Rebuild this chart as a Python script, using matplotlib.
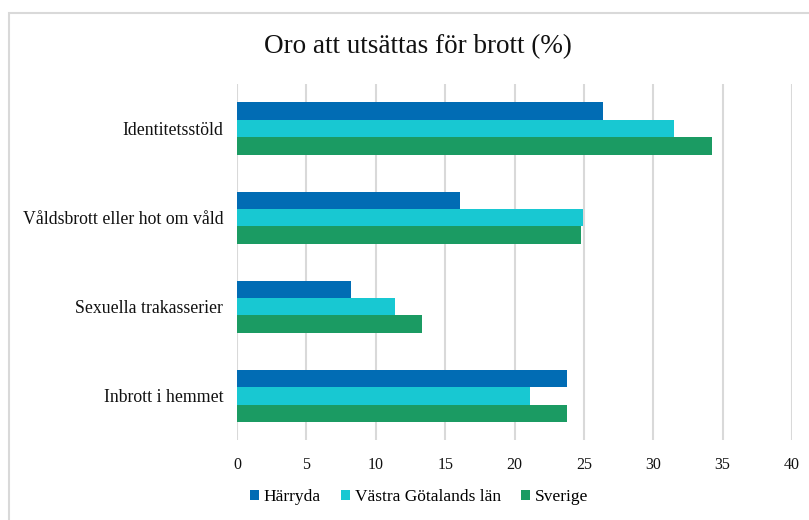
import matplotlib.pyplot as plt
import matplotlib.patches as mpatches
import numpy as np

plt.rcParams['font.family'] = ['Liberation Serif', 'DejaVu Serif']

categories = ['Identitetsstöld', 'Våldsbrott eller hot om våld',
              'Sexuella trakasserier', 'Inbrott i hemmet']
series = ['Härryda', 'Västra Götalands län', 'Sverige']
harryda = [26.4, 16.1, 8.2, 23.8]
vastra = [31.5, 24.9, 11.4, 21.1]
sverige = [34.2, 24.8, 13.35, 23.8]
colors = ['#016CB4', '#18C8D2', '#1B9B63']

fig = plt.figure(figsize=(8.09, 5.20), dpi=100)
ax = fig.add_axes([0.293, 0.153, 0.686, 0.6855])

# chart frame (light grey border, runs off the right/bottom)
frame = mpatches.Rectangle((9 / 809, -0.1), 1.2, 1 - 13 / 520 + 0.1,
                           transform=fig.transFigure, fill=False,
                           edgecolor='#d9d9d9', linewidth=1.5, clip_on=False)
fig.patches.append(frame)

y = np.arange(len(categories))
h = 0.195
for i, (vals, name) in enumerate(zip([harryda, vastra, sverige], series)):
    ax.barh(y + (i - 1) * h, vals, height=h, color=colors[i], label=name, zorder=3)

ax.set_xlim(0, 40)
ax.set_ylim(3.5, -0.5)
ax.set_xticks(range(0, 41, 5))
ax.set_yticks(y)
ax.set_yticklabels(categories, fontsize=12.8, color='#111111')
ax.tick_params(axis='x', labelsize=11.5, colors='#111111', length=0, pad=12)
ax.tick_params(axis='y', length=0, pad=10)
ax.grid(axis='x', color='#d9d9d9', linewidth=1.5, zorder=0)
for s in ax.spines.values():
    s.set_visible(False)

fig.text(0.516, 1 - 47 / 520, 'Oro att utsättas för brott (%)', ha='center', va='center',
         fontsize=19.5, color='#111111')

ax.legend(loc='center', frameon=False, ncol=3, fontsize=12.5, handlelength=0.55,
          handleheight=0.55, handletextpad=0.25, columnspacing=1.15)
leg = ax.get_legend()
leg.set_bbox_to_anchor((419 / 809, 1 - 497 / 520), transform=fig.transFigure)

fig.savefig('out.png', dpi=100)
